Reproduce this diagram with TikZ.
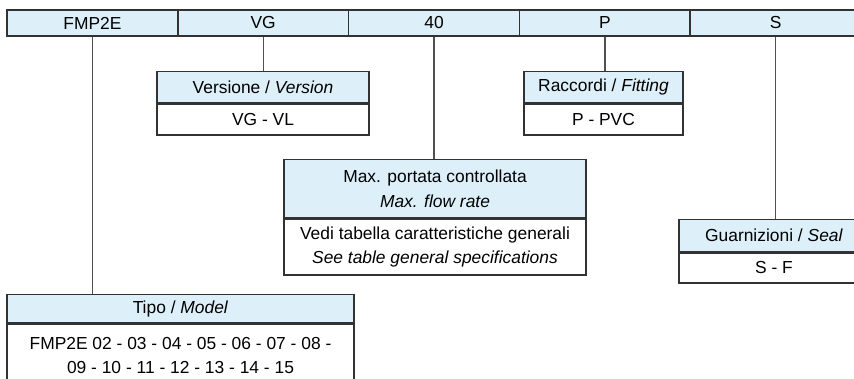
\documentclass[tikz,border=0pt]{standalone}
\usepackage{fontspec}
\setmainfont{Liberation Sans}
\usepackage{tikz}
\usepackage{xcolor}
\definecolor{headblue}{RGB}{221,240,250}
\definecolor{edgegray}{RGB}{50,50,50}
\definecolor{linegray}{RGB}{80,80,80}
\tikzset{>=latex}
\usetikzlibrary{positioning}

\begin{document}
\begin{tikzpicture}[x=1pt, y=-1pt, font=\fontsize{17.4}{24.5}\selectfont,
    cell/.style={draw=edgegray, line width=1.5pt, fill=headblue, minimum width=170.8pt, minimum height=26pt, inner sep=0pt},
    headbox/.style={draw=edgegray, line width=1.3pt, fill=headblue, align=center, inner sep=0pt, anchor=north},
    bodybox/.style={draw=edgegray, line width=1.3pt, fill=white, align=center, inner sep=0pt, anchor=north},
    conn/.style={draw=linegray, line width=1.4pt}]
        \useasboundingbox (0, 0) rectangle (854, 378);
        \clip (0, 0) rectangle (854, 378);
        \foreach \lbl [count=\i] in {FMP2E, VG, 40, P, S} {
          \node[cell] (c\i) at ({92.4+170.8*(\i-1)}, 23) {\lbl};
        }
        \node[headbox, minimum width=212pt, minimum height=31pt] (verH) at (263, 71) {Versione / \textit{Version}};
        \node[bodybox, minimum width=212pt, minimum height=31pt] (verB) at (verH.south) {VG - VL};
        \node[headbox, minimum width=159pt, minimum height=31pt] (racH) at (603.5, 71) {Raccordi / \textit{Fitting}};
        \node[bodybox, minimum width=159pt, minimum height=31pt] (racB) at (racH.south) {P - PVC};
        \node[headbox, minimum width=302pt, minimum height=58pt] (maxH) at (435, 159) {Max. portata controllata\\\textit{Max. flow rate}};
        \node[bodybox, minimum width=302pt, minimum height=56pt] (maxB) at (maxH.south) {Vedi tabella caratteristiche generali\\\textit{See table general specifications}};
        \node[headbox, minimum width=190pt, minimum height=32pt] (guaH) at (774, 219) {Guarnizioni / \textit{Seal}};
        \node[bodybox, minimum width=190pt, minimum height=30pt] (guaB) at (guaH.south) {S - F};
        \node[headbox, minimum width=347pt, minimum height=28pt] (tipH) at (180.5, 294) {Tipo / \textit{Model}};
        \node[bodybox, minimum width=347pt, minimum height=63pt] (tipB) at (tipH.south) {FMP2E 02 - 03 - 04 - 05 - 06 - 07 - 08 -\\09 - 10 - 11 - 12 - 13 - 14 - 15};
        \draw[conn] (c1.south) -- (c1.south |- tipH.north);
        \draw[conn] (c2.south) -- (c2.south |- verH.north);
        \draw[conn] (c3.south) -- (c3.south |- maxH.north);
        \draw[conn] (c4.south) -- (c4.south |- racH.north);
        \draw[conn] (c5.south) -- (c5.south |- guaH.north);
      \end{tikzpicture}
\end{document}
